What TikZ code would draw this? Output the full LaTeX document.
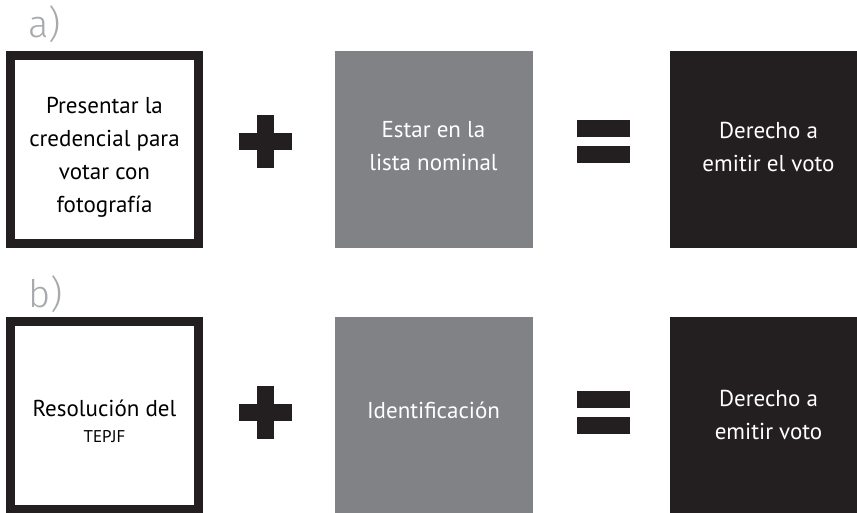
\documentclass[tikz,border=0pt]{standalone}
\usepackage{fontspec}
\setmainfont{PT Sans}
\newfontfamily\labelfont{Fira Sans Light}
\definecolor{ink}{HTML}{231F20}
\definecolor{midgray}{HTML}{808285}
\definecolor{labelgray}{HTML}{A7A9AC}
\tikzset{
    outlinebox/.style={draw=ink,line width=9pt,fill=white,inner sep=0pt,minimum width=188pt,minimum height=188pt},
    greybox/.style={fill=midgray,inner sep=0pt,minimum width=198pt,minimum height=197pt},
    darkbox/.style={fill=ink,inner sep=0pt,minimum width=197pt,minimum height=197pt},
    boxtext/.style={align=center,inner sep=0pt,font=\fontsize{23}{33}\selectfont},
    hbar/.style={fill=ink,inner sep=0pt,minimum width=53pt,minimum height=17pt},
    vbar/.style={fill=ink,inner sep=0pt,minimum width=17pt,minimum height=53pt},
    rowlabel/.style={anchor=base west,inner sep=0pt,text=labelgray,font=\labelfont\fontsize{38}{38}\selectfont}
}
\begin{document}
\begin{tikzpicture}[x=1pt,y=-1pt]
    \useasboundingbox (0,0) rectangle (857,512);
    % a)
    \node[rowlabel] (labelA) at (28,37) {a)};
    \node[outlinebox] (credA) at (104.5,149.5) {};
    \node[greybox] (listA) at (433.5,149.5) {};
    \node[darkbox] (votoA) at (768.5,149.5) {};
    \node[boxtext] (credAtext) at (104.5,156.8) {Presentar la\\credencial para\\votar con\\fotografía};
    \node[boxtext,text=white] (listAtext) at (433.5,146.3) {Estar en la\\lista nominal};
    \node[boxtext,text=white] (votoAtext) at (768.5,147) {Derecho a\\emitir el voto};
    \node[hbar] (plusAh) at (265.5,141.5) {};
    \node[vbar] (plusAv) at (265.5,141.5) {};
    \node[hbar] (equalAtop) at (603.5,128.5) {};
    \node[hbar] (equalAbot) at (603.5,154.5) {};
    % b)
    \node[rowlabel] (labelB) at (28,307) {b)};
    \node[outlinebox] (resB) at (104.5,415.5) {};
    \node[greybox] (idB) at (433.5,415.5) {};
    \node[darkbox] (votoB) at (768.5,415.5) {};
    \node[boxtext] (resBtext) at (104.5,421.5) {Resolución del\\[-7pt]{\fontsize{17}{20}\selectfont TEPJF}};
    \node[boxtext,text=white] (idBtext) at (433.5,410.5) {Identificación};
    \node[boxtext,text=white] (votoBtext) at (768.5,414.5) {Derecho a\\emitir voto};
    \node[hbar] (plusBh) at (265.5,412.5) {};
    \node[vbar] (plusBv) at (265.5,412.5) {};
    \node[hbar] (equalBtop) at (603.5,399.5) {};
    \node[hbar] (equalBbot) at (603.5,425.5) {};
\end{tikzpicture}
\end{document}
